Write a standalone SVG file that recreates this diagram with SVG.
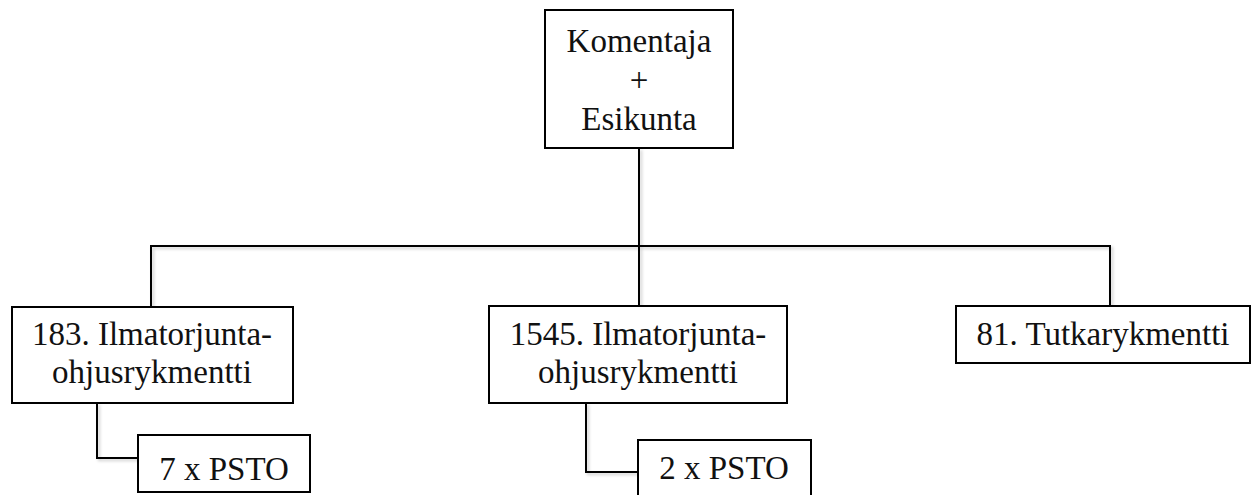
<svg xmlns="http://www.w3.org/2000/svg" width="1251" height="495" viewBox="0 0 1251 495">
<style>
.box{fill:#fff;stroke:#000;stroke-width:2}
.lbl{font-family:'Liberation Serif',serif;font-size:33px;fill:#111;text-anchor:middle}
.con{fill:none;stroke:#000;stroke-width:2}
</style>
<defs>
<filter id="sh" x="-5%" y="-5%" width="110%" height="110%">
<feDropShadow dx="2" dy="2" stdDeviation="1.5" flood-color="#000" flood-opacity="0.2"/>
</filter>
</defs>
<rect width="1251" height="495" fill="#fff"/>
<g id="connectors" filter="url(#sh)">
<path class="con" d="M639,148 V306"/>
<path class="con" d="M151,307 V246 H1110 V306"/>
<path class="con" d="M97,403 V458 H138"/>
<path class="con" d="M586,403 V472 H638"/>
</g>
<g id="komentaja">
<rect class="box" x="545" y="10" width="188" height="138"/>
<text class="lbl" x="639" y="52">Komentaja</text>
<text class="lbl" x="639" y="91">+</text>
<text class="lbl" x="639" y="130">Esikunta</text>
</g>
<g id="r183">
<rect class="box" x="12" y="307" width="281" height="96"/>
<text class="lbl" x="152" y="345">183. Ilmatorjunta-</text>
<text class="lbl" x="152" y="383">ohjusrykmentti</text>
</g>
<g id="r1545">
<rect class="box" x="489" y="306" width="298" height="97"/>
<text class="lbl" x="638" y="345">1545. Ilmatorjunta-</text>
<text class="lbl" x="638" y="383">ohjusrykmentti</text>
</g>
<g id="r81">
<rect class="box" x="956" y="306" width="294" height="57"/>
<text class="lbl" x="1103" y="345">81. Tutkarykmentti</text>
</g>
<g id="psto7">
<rect class="box" x="138" y="435" width="172" height="57"/>
<text class="lbl" x="224" y="480">7 x PSTO</text>
</g>
<g id="psto2">
<rect class="box" x="638" y="440" width="173" height="60"/>
<text class="lbl" x="724" y="479">2 x PSTO</text>
</g>
</svg>
